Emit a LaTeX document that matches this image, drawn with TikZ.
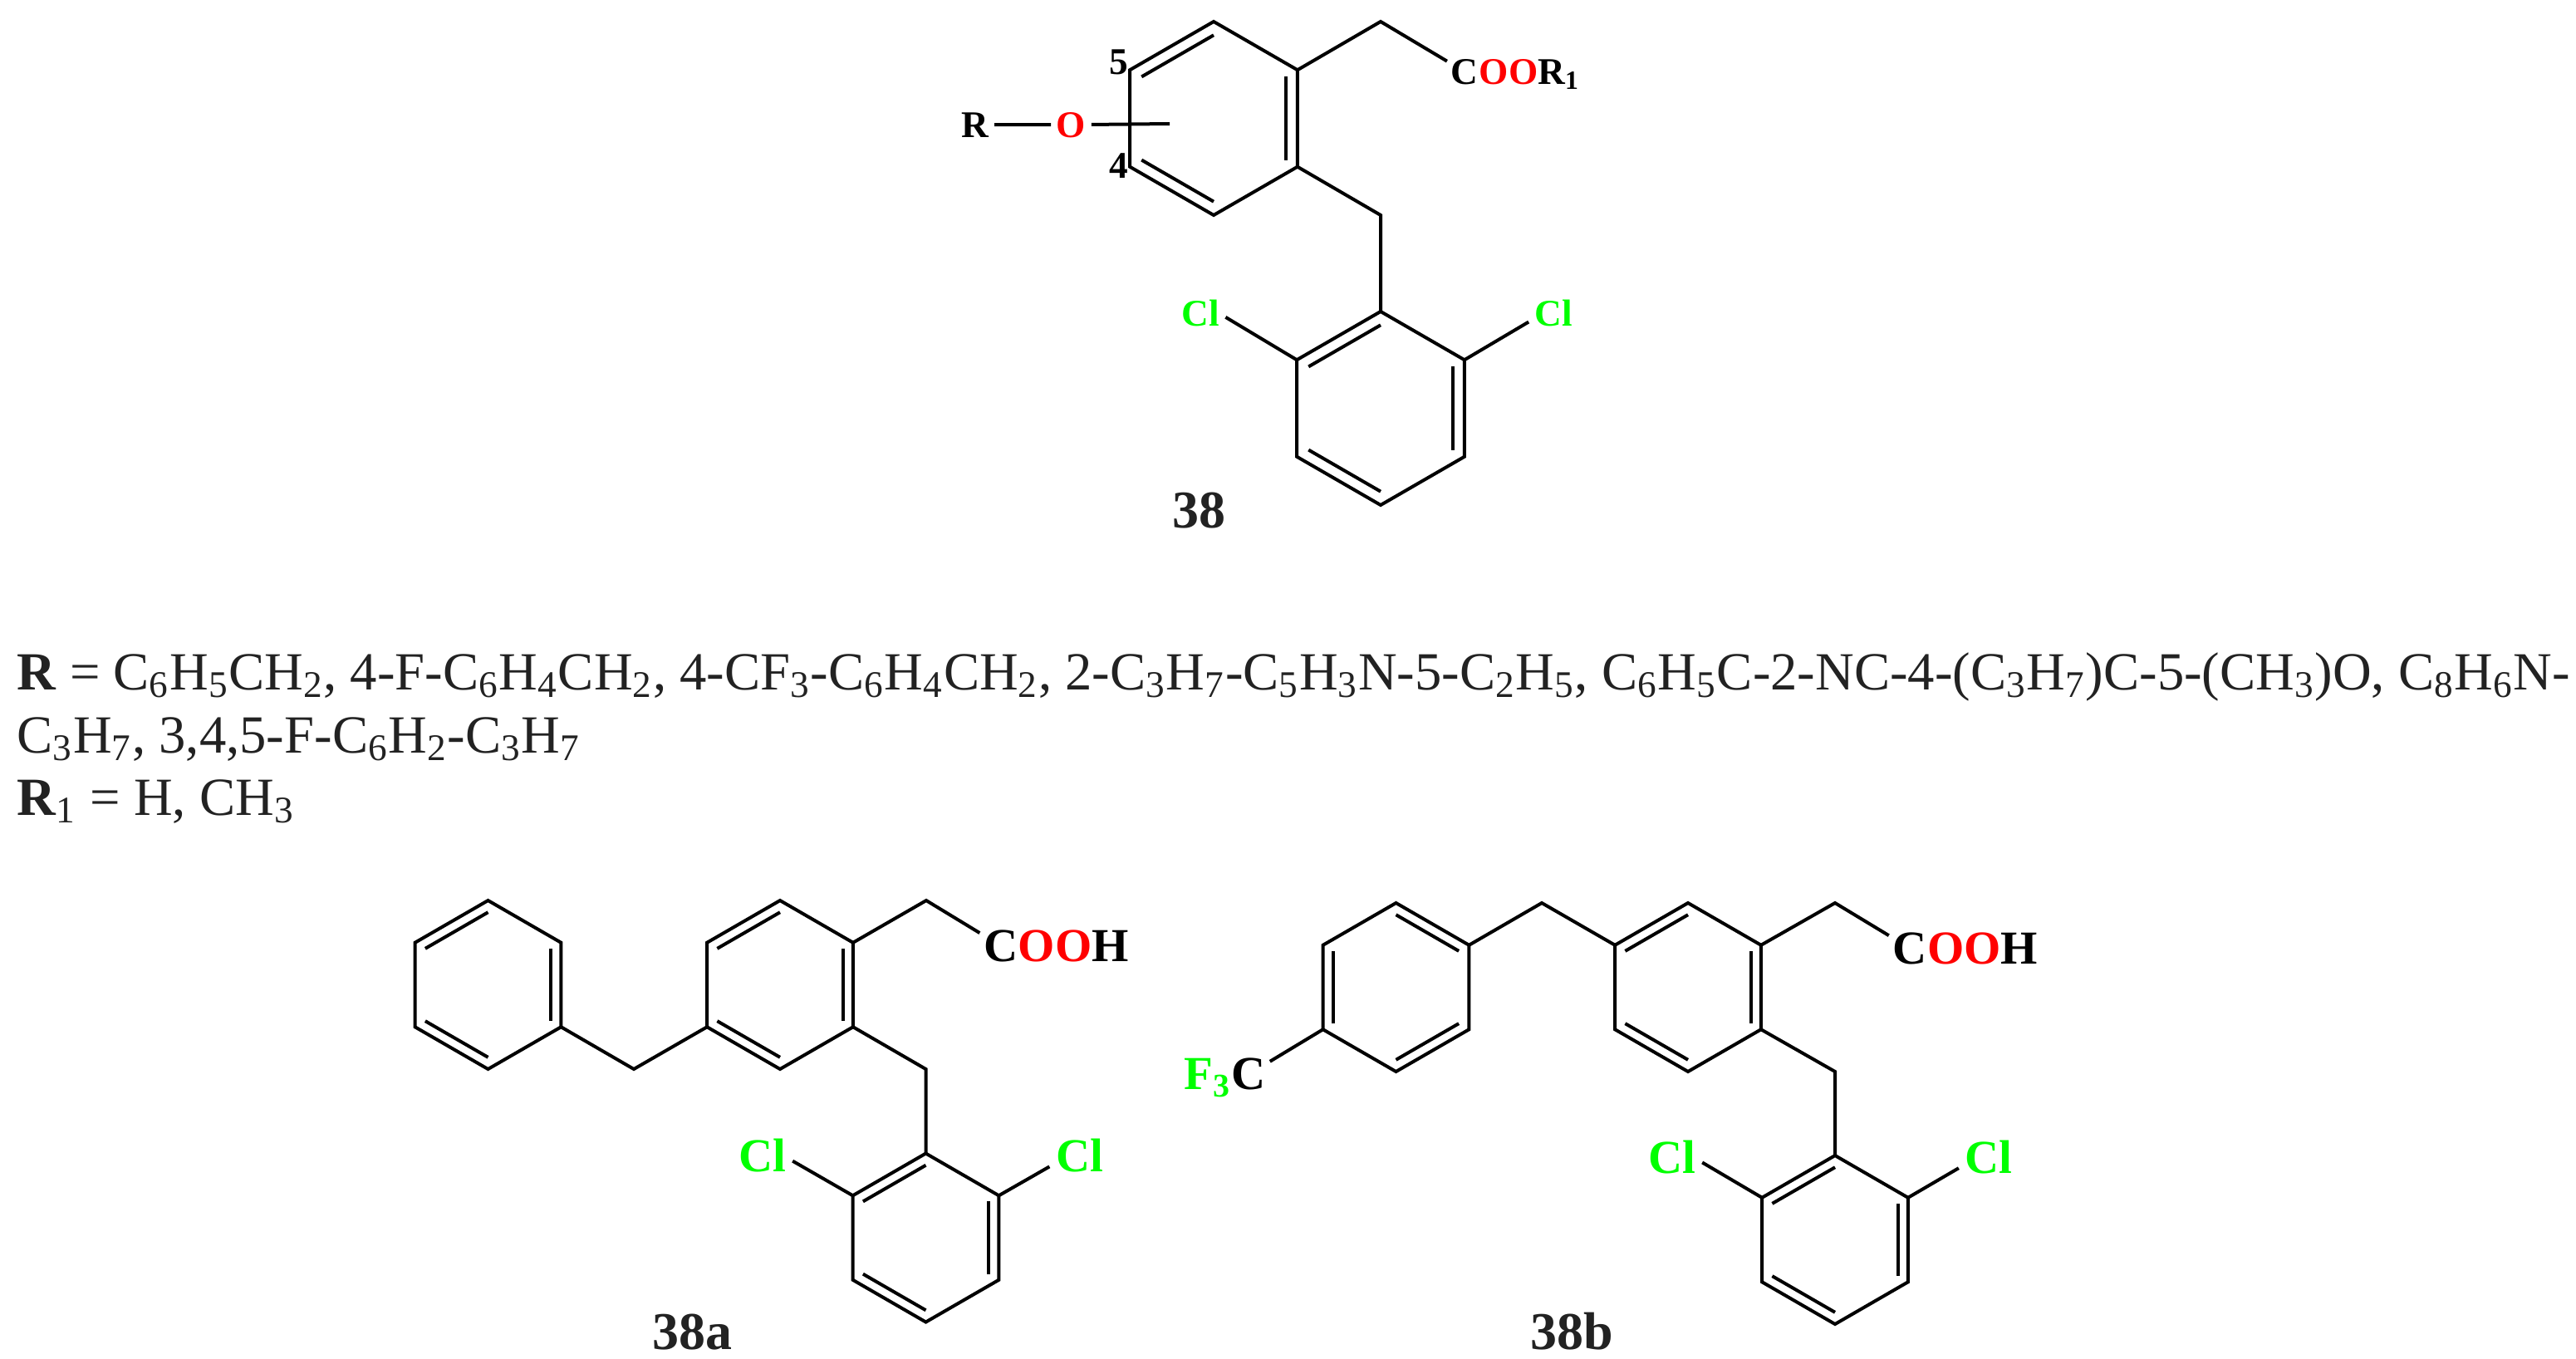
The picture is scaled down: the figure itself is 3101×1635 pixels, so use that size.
\documentclass[tikz,border=0pt]{standalone}
\usepackage{xcolor}
\usepackage{fontspec}
\setmainfont{Liberation Serif}
\usetikzlibrary{calc}
\definecolor{clgreen}{RGB}{0,255,0}
\definecolor{oxred}{RGB}{255,0,0}
\definecolor{inkgray}{RGB}{34,34,34}
\newcommand{\sbs}[1]{\textsubscript{#1}}
\tikzset{
	bond/.style={line width=0.4mm, black},
	atom/.style={anchor=base, inner sep=0.4mm, black},
	tail/.style={inner sep=0pt, anchor=base west},
	smallfont/.style={font=\bfseries\fontsize{12.9}{15}\selectfont},
	largefont/.style={font=\bfseries\fontsize{16.2}{19}\selectfont},
	chlor/.style={atom, inner sep=0.7mm, text=clgreen},
	tag/.style={anchor=base, inner sep=0pt, text=inkgray, font=\bfseries\fontsize{18.2}{21}\selectfont},
	subst/.style={anchor=base west, inner sep=0pt, text=inkgray, font=\fontsize{18.4}{22}\selectfont}
}

\begin{document}
\begin{tikzpicture}[x=0.1mm, y=-0.1mm]
	\useasboundingbox (0,0) rectangle (3101,1635);
	% ring corners, outer and inner
	\foreach \n/\cx/\cy/\s in {p/1461/142.5/116.5, q/1662/491.5/116.5, ca/587.5/1185.5/101.5, cb/939/1185.5/101.5, cc/1114.5/1490/101.5, da/1680.5/1188.5/101.5, db/2032/1188.5/101.5, dc/2209/1492.5/101.5} {
		\foreach \i in {1,...,6} {
			\coordinate (\n\i) at ($(\cx,\cy)+(30+60*\i:\s)$);
			\coordinate (\n\i i) at ($(\cx,\cy)+(30+60*\i:0.86*\s)$);
		}
		\draw[bond] (\n1) -- (\n2) -- (\n3) -- (\n4) -- (\n5) -- (\n6) -- cycle;
	}
	\foreach \n in {p,q,ca,cb,cc,db,dc} {
		\foreach \j/\k in {1/2,3/4,5/6} {
			\draw[bond] (\n\j i) -- (\n\k i);
		}
	}
	\foreach \j/\k in {2/3,4/5,6/1} {
		\draw[bond] (da\j i) -- (da\k i);
	}

	% structure 38
	\coordinate (pacid) at (1662,26);
	\coordinate (plink) at (1662,259);
	\coordinate (pstub) at (1408,149);
	\node[atom, smallfont] (pc) at (1763,101) {C};
	\node[tail, smallfont] (pest) at (1780,101) {\textcolor{oxred}{OO}R\sbs{1}};
	\node[atom, smallfont, inner sep=0.6mm] (pr) at (1174,165) {R};
	\node[atom, smallfont, inner sep=0.6mm, text=oxred] (po) at (1289.5,165) {O};
	\node[atom, smallfont, inner sep=0pt] (pfive) at (1347,89) {5};
	\node[atom, smallfont, inner sep=0pt] (pfour) at (1347,214) {4};
	\node[chlor, smallfont] (pcla) at (1445,392) {Cl};
	\node[chlor, smallfont] (pclb) at (1870.5,392) {Cl};
	\node[tag] (ptag) at (1443,635) {38};
	\draw[bond] (p5) -- (pacid) -- (pc);
	\draw[bond] (p6) -- (plink) -- (q4);
	\draw[bond] (pr) -- (po);
	\draw[bond] (po) -- (pstub);
	\draw[bond] (q3) -- (pcla.-10);
	\draw[bond] (q5) -- (pclb.200);

	% substituents
	\node[subst] (lineone) at (20,830) {\textbf{R} = C\sbs{6}H\sbs{5}CH\sbs{2}, 4-F-C\sbs{6}H\sbs{4}CH\sbs{2}, 4-CF\sbs{3}-C\sbs{6}H\sbs{4}CH\sbs{2}, 2-C\sbs{3}H\sbs{7}-C\sbs{5}H\sbs{3}N-5-C\sbs{2}H\sbs{5}, C\sbs{6}H\sbs{5}C-2-NC-4-(C\sbs{3}H\sbs{7})C-5-(CH\sbs{3})O, C\sbs{8}H\sbs{6}N-};
	\node[subst] (linetwo) at (20,906) {C\sbs{3}H\sbs{7}, 3,4,5-F-C\sbs{6}H\sbs{2}-C\sbs{3}H\sbs{7}};
	\node[subst] (linethree) at (20,981) {\textbf{R}\sbs{1} = H, CH\sbs{3}};

	% structure 38a
	\coordinate (caleft) at (763,1287);
	\coordinate (caacid) at (1115,1084);
	\coordinate (calink) at (1114.5,1287);
	\node[atom, largefont] (cac) at (1204.6,1157) {C};
	\node[tail, largefont] (caoh) at (1225,1157) {\textcolor{oxred}{OO}H};
	\node[chlor, largefont] (ccla) at (918,1410.7) {Cl};
	\node[chlor, largefont] (cclb) at (1299.5,1410.7) {Cl};
	\node[tag] (catag) at (833,1624) {38a};
	\draw[bond] (ca6) -- (caleft) -- (cb2);
	\draw[bond] (cb5) -- (caacid) -- (cac);
	\draw[bond] (cb6) -- (calink) -- (cc4);
	\draw[bond] (cc3) -- (ccla.-10);
	\draw[bond] (cc5) -- (cclb.200);

	% structure 38b
	\coordinate (dbleft) at (1856,1087);
	\coordinate (dbacid) at (2209,1087);
	\coordinate (dblink) at (2209,1290);
	\node[atom, largefont] (dbc) at (2299,1160) {C};
	\node[tail, largefont] (dboh) at (2319.5,1160) {\textcolor{oxred}{OO}H};
	\node[atom, largefont] (dac) at (1503.5,1311.6) {C};
	\node[tail, largefont, anchor=base east, text=clgreen] (daf) at (1483,1311.6) {F\sbs{3}};
	\node[chlor, largefont] (dcla) at (2013,1412.5) {Cl};
	\node[chlor, largefont] (dclb) at (2394,1412.5) {Cl};
	\node[tag] (dbtag) at (1892,1624) {38b};
	\draw[bond] (da5) -- (dbleft) -- (db3);
	\draw[bond] (db5) -- (dbacid) -- (dbc);
	\draw[bond] (db6) -- (dblink) -- (dc4);
	\draw[bond] (da2) -- (dac);
	\draw[bond] (dc3) -- (dcla.-10);
	\draw[bond] (dc5) -- (dclb.200);
\end{tikzpicture}
\end{document}
